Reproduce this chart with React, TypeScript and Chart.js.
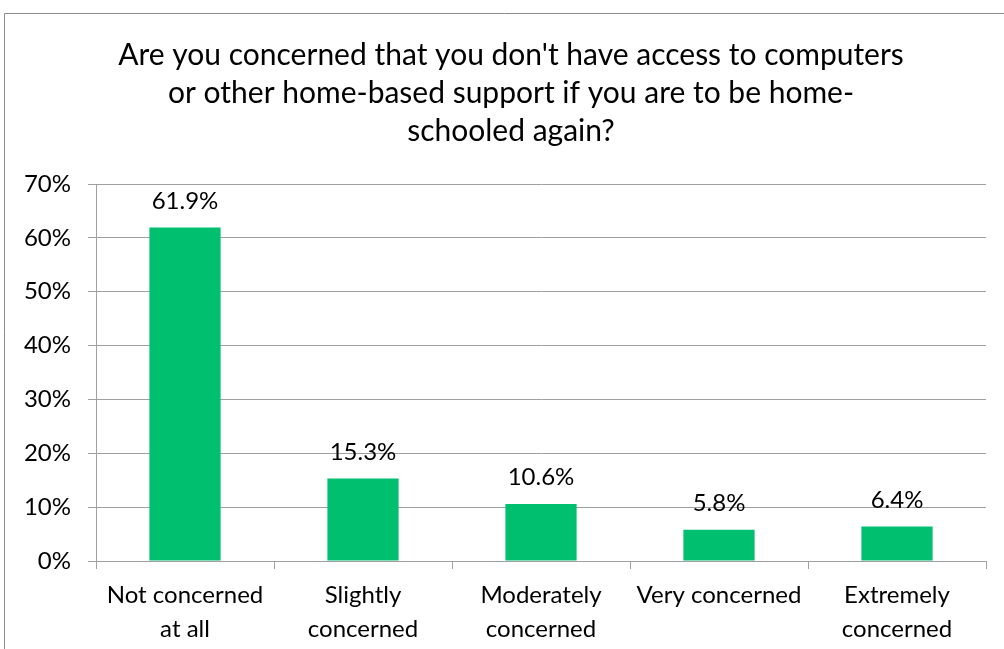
import React, { useEffect, useRef } from "react";
import { Chart, registerables } from "chart.js";

Chart.register(...registerables);

const titleLines = [
  "Are you concerned that you don't have access to computers",
  "or other home-based support if you are to be home-",
  "schooled again?",
];
const categories = [
  ["Not concerned", "at all"],
  ["Slightly", "concerned"],
  ["Moderately", "concerned"],
  "Very concerned",
  ["Extremely", "concerned"],
];
const values = [61.9, 15.3, 10.6, 5.8, 6.4];
const yMin = 0;
const yMax = 70;
const yStep = 10;

const FONT = "Lato, 'Noto Sans', sans-serif";
const GRID = "#a0a0a0";
const BAR = "#00bf6f";

const frameBorder = {
  id: "frameBorder",
  beforeDraw(chart: any) {
    const ctx = chart.ctx;
    ctx.save();
    ctx.fillStyle = "#ffffff";
    ctx.fillRect(0, 0, chart.width, chart.height);
    ctx.strokeStyle = "#8c8c8c";
    ctx.lineWidth = 1;
    ctx.beginPath();
    ctx.moveTo(4.5, chart.height);
    ctx.lineTo(4.5, 13.5);
    ctx.lineTo(chart.width, 13.5);
    ctx.stroke();
    ctx.restore();
  },
};

const titleShift = {
  id: "titleShift",
  afterLayout(chart: any) {
    const t = chart.titleBlock;
    if (t) {
      t.left = 36;
      t.right = 986;
    }
  },
};

const valueLabels = {
  id: "valueLabels",
  afterDatasetsDraw(chart: any) {
    const ctx = chart.ctx;
    const meta = chart.getDatasetMeta(0);
    ctx.save();
    ctx.font = `24px ${FONT}`;
    ctx.fillStyle = "#000";
    ctx.textAlign = "center";
    ctx.textBaseline = "alphabetic";
    meta.data.forEach((bar: any, i: number) => {
      const v = chart.data.datasets[0].data[i];
      ctx.fillText(v.toFixed(1) + "%", bar.x, bar.y - 19);
    });
    ctx.restore();
  },
};

export default function App() {
  const ref = useRef<HTMLCanvasElement | null>(null);
  useEffect(() => {
    document.body.style.margin = "0";
    const chart = new Chart(ref.current!, {
      type: "bar",
      data: {
        labels: categories as any,
        datasets: [
          {
            data: values,
            backgroundColor: BAR,
            barPercentage: 0.4,
            categoryPercentage: 1,
          },
        ],
      },
      options: {
        animation: false,
        responsive: false,
        maintainAspectRatio: false,
        layout: { padding: { left: 0, right: 18, top: 0, bottom: 0 } },
        plugins: {
          legend: { display: false },
          tooltip: { enabled: false },
          title: {
            display: true,
            text: titleLines,
            color: "#000",
            font: { family: FONT, size: 30, weight: "normal" as any, lineHeight: "38px" as any },
            padding: { top: 36, bottom: 34 },
          },
        },
        scales: {
          x: {
            afterFit(scale: any) {
              scale.height = 88;
            },
            grid: {
              display: true,
              drawOnChartArea: false,
              drawTicks: true,
              tickLength: 8,
              offset: true,
              color: GRID,
            },
            border: { display: true, color: GRID },
            ticks: {
              color: "#000",
              padding: 9,
              maxRotation: 0,
              autoSkip: false,
              font: { family: FONT, size: 24, lineHeight: "34px" as any },
            },
          },
          y: {
            min: yMin,
            max: yMax,
            afterFit(scale: any) {
              scale.width = 96;
            },
            grid: { color: GRID, tickLength: 8, drawTicks: true },
            border: { display: true, color: GRID },
            ticks: {
              stepSize: yStep,
              color: "#000",
              padding: 17,
              font: { family: FONT, size: 24 },
              callback: (v: any) => v + "%",
            },
          },
        },
      },
      plugins: [frameBorder, titleShift, valueLabels],
    });
    return () => chart.destroy();
  }, []);
  return (
    <div style={{ position: "fixed", left: 0, top: 0, width: 1004, height: 649 }}>
      <canvas ref={ref} width={1004} height={649} style={{ width: 1004, height: 649, display: "block" }} />
    </div>
  );
}
